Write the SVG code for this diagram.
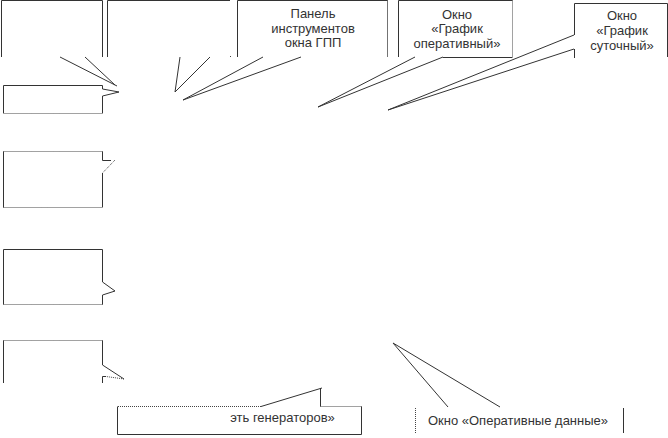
<svg xmlns="http://www.w3.org/2000/svg" width="668" height="438" viewBox="0 0 668 438">
<style>
.e{fill:none;stroke:#333;stroke-width:1}
.d{fill:none;stroke:#444;stroke-width:1;stroke-dasharray:1 1}
.w{fill:none;stroke:#333;stroke-width:1}
.t{font-family:"Liberation Sans",Arial,sans-serif;font-size:13px;fill:#333;text-anchor:middle}
</style>
<rect width="668" height="438" fill="#fff"/>
<g id="node-top1">
<path class="e" d="M1.5,57 V0.5 H102.5 V57"/>
</g>
<g id="node-top2">
<path class="e" d="M107.5,57 V0.5 H230"/>
<path class="d" d="M230,56.5 h1"/>
</g>
<g id="node-panel">
<path class="e" d="M237.5,57 V0.5 H387.5"/>
<path class="d" d="M387.5,0.5 V57"/>
<text class="t" x="313" y="18">Панель</text>
<text class="t" x="313" y="32.5">инструментов</text>
<text class="t" x="313" y="47">окна ГПП</text>
</g>
<g id="node-oper-graph">
<path class="d" d="M387.5,0.5 V57"/>
<path class="e" d="M398.5,57 V0.5 H512.5"/>
<path class="d" d="M512.5,0.5 V57"/>
<path class="e" d="M443,57.5 H512.5"/>
<text class="t" x="457" y="18.5">Окно</text>
<text class="t" x="457" y="33">«График</text>
<text class="t" x="457" y="47.5">оперативный»</text>
</g>
<g id="node-daily-graph">
<path class="e" d="M574.5,35 V3.5 H667.5 V57"/>
<path class="e" d="M574.5,49 V58"/>
<text class="t" x="622" y="20">Окно</text>
<text class="t" x="622" y="35">«График</text>
<text class="t" x="622" y="49.5">суточный»</text>
</g>
<g id="node-left1">
<path class="e" d="M102.5,89 V85.5 H3.5 V113"/>
<path class="d" d="M3.5,113.5 H102.5"/>
<path class="e" d="M102.5,113 V96"/>
</g>
<g id="node-left2">
<path class="d" d="M3.5,151.5 H102.5"/>
<path class="e" d="M102.5,151.5 V160.5 H111"/>
<path class="e" d="M102.5,173 V207"/>
<path class="d" d="M102.5,207.5 H3.5"/>
<path class="e" d="M3.5,207.5 V151.5"/>
</g>
<g id="node-left3">
<path class="e" d="M102.5,282 V249.5 H3.5 V304.5"/>
<path class="d" d="M3.5,304.5 H102.5"/>
<path class="e" d="M102.5,295 V304.5"/>
</g>
<g id="node-left4">
<path class="d" d="M3.5,340.5 H102.5"/>
<path class="e" d="M102.5,340.5 V365"/>
<path class="e" d="M3.5,340.5 V383"/>
<path class="e" d="M102.5,383 V376.5 H106"/>
</g>
<g id="node-gen">
<path class="d" d="M261,406.5 H117.5"/>
<path class="e" d="M117.5,406.5 V434.5 H361.5 V406.5"/>
<path class="d" d="M361.5,406.5 H320.5"/>
<path class="e" d="M320.5,406.5 V388"/>
<text class="t" x="282.5" y="422">эть генераторов»</text>
</g>
<g id="node-oper-data">
<path class="d" d="M415.5,408 V434"/>
<path class="e" d="M623.5,408 V433"/>
<text class="t" x="518" y="425">Окно «Оперативные данные»</text>
</g>
<g id="connectors">
<path class="e" d="M60,57 L117,86 M85,57 L115,85"/>
<path class="e" d="M180,57 L175,92 L210,57"/>
<path class="e" d="M263,57 L183,100 L301,57"/>
<path class="e" d="M415,57 L318,107 L443,57"/>
<path class="e" d="M574,35 L388,110 L574,49"/>
<path class="e" d="M102.5,89 L119,92 L102.5,96"/>
<path class="d" d="M115,160 L102.5,173"/>
<path class="e" d="M102.5,282 L115,291 L102.5,295"/>
<path class="e" d="M102.5,365 L124,379"/>
<path class="d" d="M124,379 L106,376.5"/>
<path class="e" d="M261,406.5 L322,388"/>
<path class="e" d="M448,407 L393,343 L500,407"/>
</g>
</svg>
